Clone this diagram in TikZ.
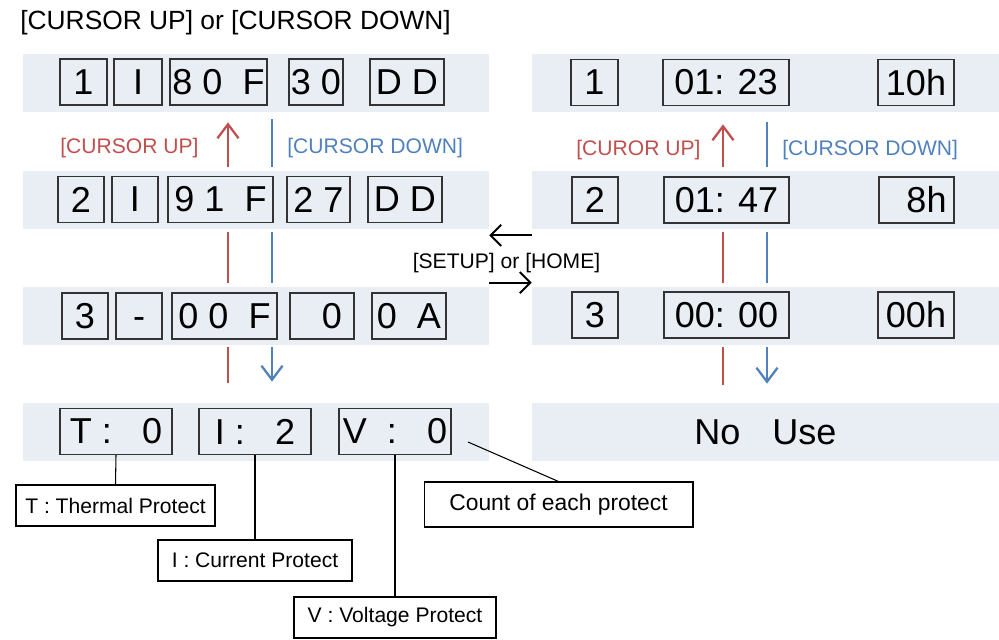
\documentclass[tikz,border=0pt]{standalone}
\usepackage{fontspec}
\setmainfont{Liberation Sans}
\usetikzlibrary{arrows.meta}
\definecolor{bandcol}{HTML}{E9EDF4}
\definecolor{upred}{HTML}{C0504D}
\definecolor{downblue}{HTML}{4F81BD}
\definecolor{boxline}{HTML}{333333}
\begin{document}
\begin{tikzpicture}[x=0.02cm, y=0.02cm,
    band/.style={fill=bandcol, draw=none, minimum height=1.16cm},
    digitbox/.style={draw=boxline, line width=0.6pt, minimum height=0.92cm, font=\fontsize{20.5}{24}\selectfont},
    callbox/.style={draw=black, fill=white, line width=0.6pt, minimum height=0.82cm, font=\fontsize{12}{14}\selectfont},
    smalltext/.style={font=\fontsize{12}{14}\selectfont},
    upline/.style={draw=upred, line width=1.3pt},
    downline/.style={draw=downblue, line width=1.3pt},
    barb/.style={-{Straight Barb[length=8pt,width=12pt]}},
    setarrow/.style={draw=black, line width=1.1pt, -{Straight Barb[length=6pt,width=12pt]}},
    callline/.style={draw=black, line width=0.6pt}]
        \tikzstyle{every node}+=[inner sep=0pt]
        \useasboundingbox (0,0) rectangle (999,-639);
        % title
        \node [anchor=base west, font=\fontsize{15}{18}\selectfont] (title) at (20,-30) {[CURSOR UP] or [CURSOR DOWN]};
        % bands
        \node [band, minimum width=9.32cm] (l1band) at (256,-83) {};
        \node [band, minimum width=9.32cm] (l2band) at (256,-200) {};
        \node [band, minimum width=9.32cm] (l3band) at (256,-316) {};
        \node [band, minimum width=9.32cm] (l4band) at (256,-432) {};
        \node [band, minimum width=9.34cm] (r1band) at (765.5,-83) {};
        \node [band, minimum width=9.34cm] (r2band) at (765.5,-200) {};
        \node [band, minimum width=9.34cm] (r3band) at (765.5,-316) {};
        \node [band, minimum width=9.34cm, font=\fontsize{20.5}{24}\selectfont] (r4band) at (765.5,-432) {No\hspace{0.64cm}Use};
        % left rows
        \node [digitbox, minimum width=0.94cm] (l1a) at (83.5,-82) {1};
        \node [digitbox, minimum width=0.96cm] (l1b) at (138,-82) {I};
        \node [digitbox, minimum width=1.94cm] (l1c) at (218.5,-82) {8 0~~F};
        \node [digitbox, minimum width=1.08cm] (l1d) at (316,-82) {3 0};
        \node [digitbox, minimum width=1.48cm] (l1e) at (407,-82) {D D};
        \node [digitbox, minimum width=0.92cm] (l2a) at (81,-199.5) {2};
        \node [digitbox, minimum width=0.92cm] (l2b) at (135,-199.5) {I};
        \node [digitbox, minimum width=2.10cm] (l2c) at (220.5,-199.5) {9 1~~F};
        \node [digitbox, minimum width=1.26cm] (l2d) at (318.5,-199.5) {2 7};
        \node [digitbox, minimum width=1.48cm] (l2e) at (405,-199.5) {D D};
        \node [digitbox, minimum width=0.92cm] (l3a) at (85,-316) {3};
        \node [digitbox, minimum width=0.92cm] (l3b) at (139,-316) {\vphantom{0}-};
        \node [digitbox, minimum width=2.10cm] (l3c) at (224.5,-316) {0 0~~F};
        \node [digitbox, minimum width=1.28cm] (l3d) at (322,-316) {~~0};
        \node [digitbox, minimum width=1.48cm] (l3e) at (409,-316) {0~~A};
        \node [digitbox, minimum width=2.24cm] (t4) at (116,-431.5) {T :~~~0};
        \node [digitbox, minimum width=2.24cm] (i4) at (255,-431.5) {I :~~~2};
        \node [digitbox, minimum width=2.24cm] (v4) at (395,-431.5) {V~~:~~~0};
        % right rows
        \node [digitbox, minimum width=0.94cm] (r1a) at (594.5,-82.5) {1};
        \node [digitbox, minimum width=2.52cm] (r1b) at (726,-82.5) {01: 23};
        \node [digitbox, minimum width=1.52cm] (r1c) at (916,-82.5) {10h};
        \node [digitbox, minimum width=0.92cm] (r2a) at (595,-200) {2};
        \node [digitbox, minimum width=2.50cm] (r2b) at (726.5,-200) {01: 47};
        \node [digitbox, minimum width=1.50cm] (r2c) at (916.5,-200) {~~8h};
        \node [digitbox, minimum width=0.92cm] (r3a) at (595,-315) {3};
        \node [digitbox, minimum width=2.50cm] (r3b) at (726.5,-315) {00: 00};
        \node [digitbox, minimum width=1.52cm] (r3c) at (916,-315) {00h};
        % cursor labels
        \node [smalltext, text=upred, anchor=base west] (lupname) at (60,-153) {[CURSOR UP]};
        \node [smalltext, text=downblue, anchor=base west] (ldnname) at (287,-153) {[CURSOR DOWN]};
        \node [smalltext, text=upred, anchor=base west] (rupname) at (576,-155) {[CUROR UP]};
        \node [smalltext, text=downblue, anchor=base west] (rdnname) at (782,-155) {[CURSOR DOWN]};
        % cursor lines
        \coordinate (lup) at (228,0);
        \coordinate (ldn) at (272,0);
        \coordinate (rup) at (723,0);
        \coordinate (rdn) at (767,0);
        \draw [upline, barb, shorten <=0.08cm, shorten >=0.2cm] (l2band.north -| lup) -- (l1band.south -| lup);
        \draw [downline, shorten <=0.14cm, shorten >=0.08cm] (l1band.south -| ldn) -- (l2band.north -| ldn);
        \draw [upline, shorten <=0.06cm, shorten >=0.08cm] (l2band.south -| lup) -- (l3band.north -| lup);
        \draw [downline, shorten <=0.06cm, shorten >=0.08cm] (l2band.south -| ldn) -- (l3band.north -| ldn);
        \draw [upline, shorten <=0.04cm, shorten >=0.4cm] (l3band.south -| lup) -- (l4band.north -| lup);
        \draw [downline, barb, shorten <=0.04cm, shorten >=0.42cm] (l3band.south -| ldn) -- (l4band.north -| ldn);
        \draw [upline, barb, shorten <=0.08cm, shorten >=0.24cm] (r2band.north -| rup) -- (r1band.south -| rup);
        \draw [downline, shorten <=0.2cm, shorten >=0.08cm] (r1band.south -| rdn) -- (r2band.north -| rdn);
        \draw [upline, shorten <=0.06cm, shorten >=0.08cm] (r2band.south -| rup) -- (r3band.north -| rup);
        \draw [downline, shorten <=0.06cm, shorten >=0.08cm] (r2band.south -| rdn) -- (r3band.north -| rdn);
        \draw [upline, shorten <=0.04cm, shorten >=0.36cm] (r3band.south -| rup) -- (r4band.north -| rup);
        \draw [downline, barb, shorten <=0.04cm, shorten >=0.38cm] (r3band.south -| rdn) -- (r4band.north -| rdn);
        % setup / home
        \draw [setarrow] ([yshift=-0.12cm]r2band.south west) -- ([yshift=-0.12cm]l2band.south east);
        \draw [setarrow] ([yshift=0.08cm]l3band.north east) -- ([yshift=0.08cm]r3band.north west);
        \node [smalltext, anchor=base] (setupname) at (506.5,-268) {[SETUP] or [HOME]};
        % protect notes
        \node [callbox, minimum width=3.98cm] (tcall) at (115.5,-505.5) {T : Thermal Protect};
        \node [callbox, minimum width=3.88cm] (icall) at (255,-560.5) {I : Current Protect};
        \node [callbox, minimum width=4.04cm] (vcall) at (395,-617.5) {V : Voltage Protect};
        \node [callbox, minimum width=5.38cm, minimum height=0.9cm, font=\fontsize{13}{15}\selectfont] (ccall) at (558.5,-504.5) {Count of each protect};
        \coordinate (cstart) at (468,-442);
        \draw [callline] (t4.south) -- (tcall.north);
        \draw [callline] (i4.south) -- (icall.north);
        \draw [callline] (v4.south) -- (vcall.north);
        \draw [callline] (cstart) -- (ccall.north);
    \end{tikzpicture}
\end{document}
